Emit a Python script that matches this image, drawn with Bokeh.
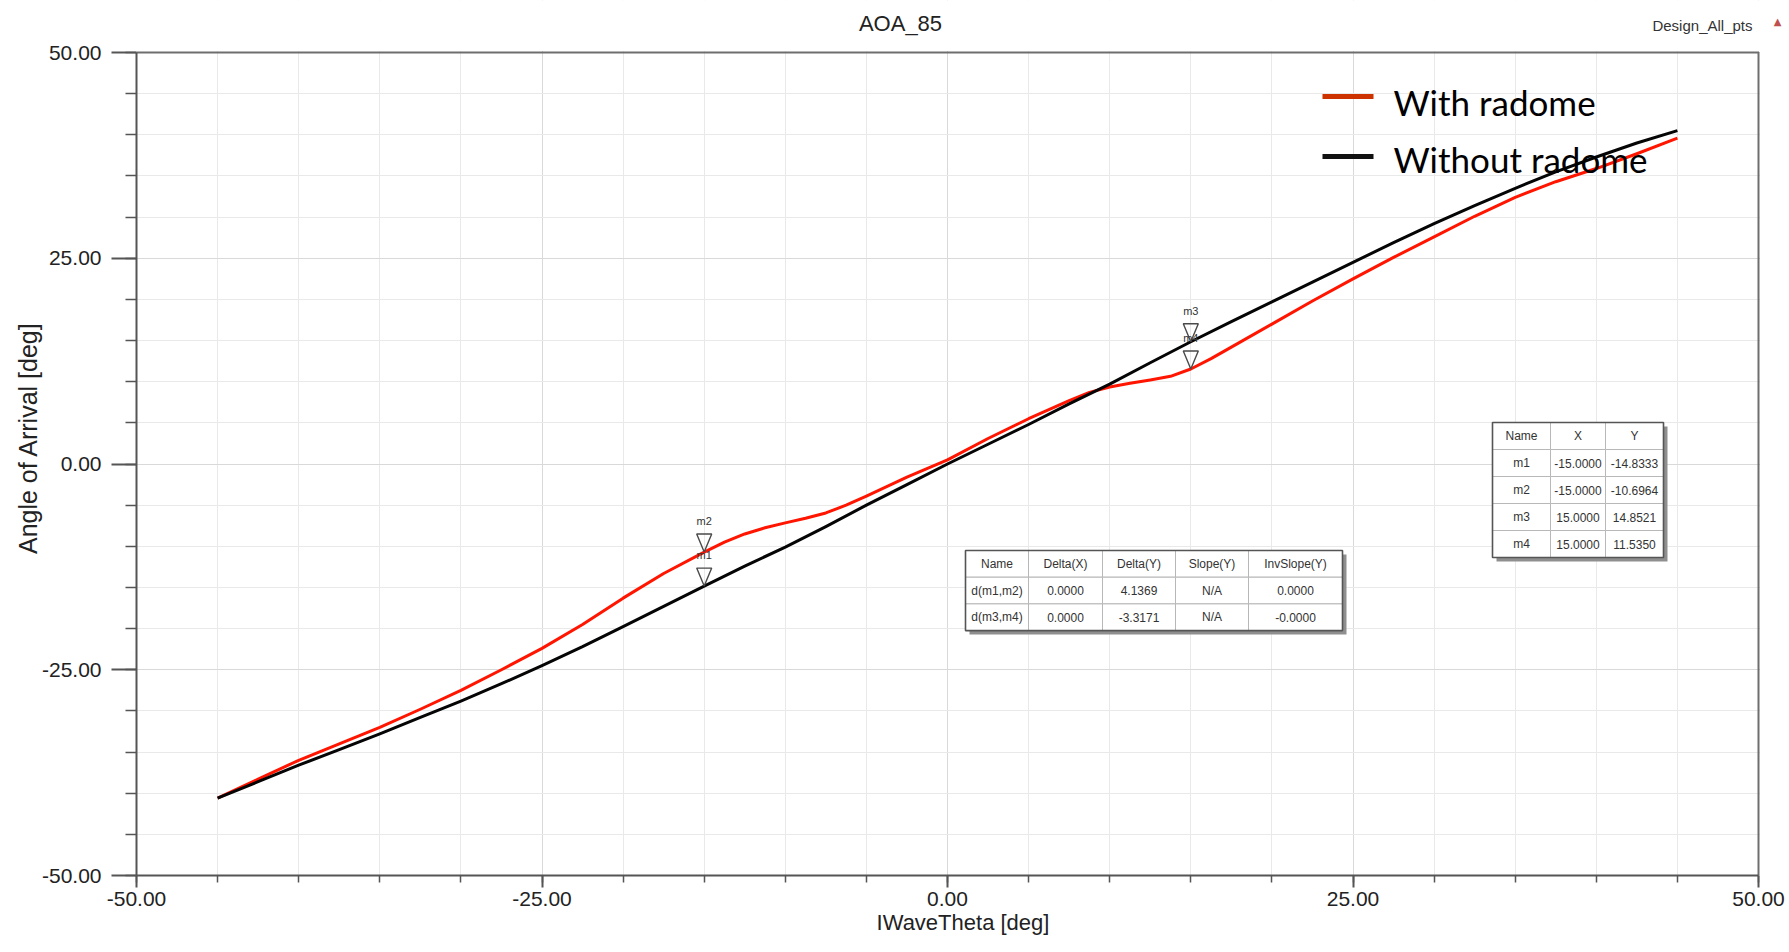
from bokeh.plotting import figure
from bokeh.models import FixedTicker, PrintfTickFormatter, Label, Range1d, BoxAnnotation
from bokeh.core.properties import value
from bokeh.embed import file_html
from bokeh.resources import INLINE

# ---------------- data ----------------
theta_with = [-45, -42.5, -40, -37.5, -35, -32.5, -30, -27.5, -25, -22.5, -20, -17.5,
              -15, -13.75, -12.5, -11.25, -10, -8.75, -7.5, -6.25, -5, -2.5, 0, 2.5,
              5, 7.5, 8.75, 10, 11.25, 12.5, 13.75, 15, 16.25, 17.5, 20, 22.5, 25,
              27.5, 30, 32.5, 35, 37.5, 40, 42.5, 45]
with_radome = [-40.6, -38.3, -36.0, -34.0, -32.0, -29.8, -27.5, -25.0, -22.4, -19.5,
               -16.3, -13.3, -10.7, -9.5, -8.5, -7.75, -7.15, -6.6, -5.95, -5.0,
               -3.9, -1.6, 0.5, 3.1, 5.5, 7.7, 8.7, 9.35, 9.8, 10.2, 10.65, 11.54,
               12.8, 14.2, 17.0, 19.8, 22.5, 25.1, 27.6, 30.1, 32.4, 34.3, 35.9,
               37.7, 39.6]
theta_without = [-45, -42.5, -40, -37.5, -35, -32.5, -30, -27.5, -25, -22.5, -20, -17.5,
                 -15, -12.5, -10, -7.5, -5, -2.5, 0, 2.5, 5, 7.5, 10, 12.5, 15, 17.5,
                 20, 22.5, 25, 27.5, 30, 32.5, 35, 37.5, 40, 42.5, 45]
without_radome = [-40.6, -38.6, -36.6, -34.7, -32.8, -30.8, -28.8, -26.7, -24.5, -22.2,
                  -19.75, -17.3, -14.83, -12.4, -10.1, -7.6, -5.0, -2.5, 0.0, 2.4, 4.8,
                  7.3, 9.7, 12.3, 14.85, 17.3, 19.7, 22.1, 24.5, 26.9, 29.2, 31.4,
                  33.5, 35.5, 37.3, 39.0, 40.5]
series_names = ["With radome", "Without radome"]

x_ticks = [-50, -25, 0, 25, 50]
y_ticks = [-50, -25, 0, 25, 50]
x_minor = [-50, -45, -40, -35, -30, -25, -20, -15, -10, -5, 0, 5, 10, 15, 20, 25, 30, 35, 40, 45, 50]
y_minor = [-50, -45, -40, -35, -30, -25, -20, -15, -10, -5, 0, 5, 10, 15, 20, 25, 30, 35, 40, 45, 50]

marker_names = ["m1", "m2", "m3", "m4"]
marker_x = [-15.0, -15.0, 15.0, 15.0]
marker_y = [-14.8333, -10.6964, 14.8521, 11.5350]
delta_pairs = [(0, 1), (2, 3)]

# ---------------- layout helpers (page pixels) ----------------
W, H = 1789, 952
FL, FR, FT, FB = 136, 1758, 52, 875      # edges of the data box (-50..50)
XPX = (FR - FL) / 100.0
YPX = (FB - FT) / 100.0


def dx(px):
    return -50 + (px - FL) / XPX


def dy(py):
    return 50 - (py - FT) / YPX


TICK_FONT = "Liberation Sans"

# the frame reaches the top and right edges of the page, so that the header
# texts can live inside it; axes and grid are bounded to -50..50
p = figure(width=W, height=H,
           x_range=Range1d(x_ticks[0], dx(W)), y_range=Range1d(y_ticks[0], dy(0)),
           output_backend="svg", toolbar_location=None, title=None,
           min_border_left=FL, min_border_right=0,
           min_border_top=0, min_border_bottom=H - FB)
p.background_fill_color = "white"
p.border_fill_color = "white"
p.outline_line_color = None

for ax, ticks, minor in ((p.xaxis, x_ticks, x_minor), (p.yaxis, y_ticks, y_minor)):
    ax.ticker = FixedTicker(ticks=ticks, minor_ticks=minor)
    ax.bounds = (ticks[0], ticks[-1])
    ax.formatter = PrintfTickFormatter(format="%.2f")
    ax.axis_line_color = "#555555"
    ax.axis_line_width = 2
    ax.major_tick_line_color = "#555555"
    ax.major_tick_line_width = 2
    ax.minor_tick_line_color = "#555555"
    ax.minor_tick_line_width = 1.5
    ax.major_tick_in = 0
    ax.minor_tick_in = 0
    ax.major_label_text_font = TICK_FONT
    ax.major_label_text_font_size = "21px"
    ax.major_label_text_color = "#222222"
    ax.axis_label_text_font = TICK_FONT
    ax.axis_label_text_font_style = "normal"
    ax.axis_label_text_color = "#222222"

p.xaxis.axis_label = "IWaveTheta [deg]"
p.xaxis.axis_label_text_font_size = "22px"
p.xaxis.major_tick_out = 12
p.xaxis.minor_tick_out = 7
p.xaxis.major_label_standoff = 4
p.xaxis.axis_label_standoff = 1

p.yaxis.axis_label = "Angle of Arrival [deg]"
p.yaxis.axis_label_text_font_size = "25px"
p.yaxis.major_tick_out = 25
p.yaxis.minor_tick_out = 11
p.yaxis.major_label_standoff = 10
p.yaxis.axis_label_standoff = -3

for g in (p.xgrid, p.ygrid):
    g.grid_line_color = "#d9d9d9"
    g.grid_line_width = 1
    g.minor_grid_line_color = "#e9e9e9"
    g.minor_grid_line_width = 1

# top and right border of the data box
p.line([x_ticks[0], x_ticks[-1], x_ticks[-1]], [y_ticks[-1], y_ticks[-1], y_ticks[0]],
       line_color="#6e6e6e", line_width=2)

# ---------------- curves ----------------
p.line(theta_with, with_radome, line_color="#ff1500", line_width=3, line_join="round")
p.line(theta_without, without_radome, line_color="#050505", line_width=3, line_join="round")

# ---------------- markers ----------------
tri_w = 15 / XPX
tri_h = 18 / YPX
p.patches([[mx - tri_w / 2, mx + tri_w / 2, mx] for mx in marker_x],
          [[my + tri_h, my + tri_h, my] for my in marker_y],
          fill_alpha=0, line_color="#4a4a4a", line_width=1.4)
p.text(marker_x, [my + 31 / YPX for my in marker_y], text=marker_names,
       text_font=value(TICK_FONT), text_font_size="11px", text_align="center",
       text_baseline="middle", text_color="#333333")


# ---------------- tables ----------------
def draw_table(left, top, col_w, row_h, rows):
    edges = [left]
    for w in col_w:
        edges.append(edges[-1] + w)
    right = edges[-1]
    bottom = top + row_h * len(rows)
    p.quad(left=[dx(left + 4)], right=[dx(right + 4)], top=[dy(top + 4)],
           bottom=[dy(bottom + 4)], fill_color="#8f8f8f", line_color=None)
    L, R, T, B, tx, ty, tt = [], [], [], [], [], [], []
    for r, row in enumerate(rows):
        for c, cell in enumerate(row):
            L.append(dx(edges[c]))
            R.append(dx(edges[c + 1]))
            T.append(dy(top + r * row_h))
            B.append(dy(top + (r + 1) * row_h))
            tx.append(dx((edges[c] + edges[c + 1]) / 2))
            ty.append(dy(top + (r + 0.5) * row_h))
            tt.append(cell)
    p.quad(left=L, right=R, top=T, bottom=B, fill_color="white",
           line_color="#b8b8b8", line_width=1)
    p.quad(left=[dx(left)], right=[dx(right)], top=[dy(top)], bottom=[dy(bottom)],
           fill_alpha=0, line_color="#555555", line_width=1.6)
    p.text(tx, ty, text=tt, text_font=value(TICK_FONT), text_font_size="12px",
           text_align="center", text_baseline="middle", text_color="#333333")


delta_rows = [["Name", "Delta(X)", "Delta(Y)", "Slope(Y)", "InvSlope(Y)"]]
for a, b in delta_pairs:
    ddx = marker_x[b] - marker_x[a]
    ddy = marker_y[b] - marker_y[a]
    delta_rows.append([f"d({marker_names[a]},{marker_names[b]})", f"{ddx:.4f}",
                       f"{ddy:.4f}", "N/A", f"{ddx / ddy:.4f}"])
draw_table(965, 550, [63, 74, 73, 73, 94], 26.7, delta_rows)

marker_rows = [["Name", "X", "Y"]]
for n, mx, my in zip(marker_names, marker_x, marker_y):
    marker_rows.append([n, f"{mx:.4f}", f"{my:.4f}"])
draw_table(1492, 422, [58, 55, 58], 27, marker_rows)

# ---------------- white masks over grid outside the data box ----------------
p.add_layout(BoxAnnotation(bottom=y_ticks[-1] + 1.5 / YPX, fill_color="white",
                           fill_alpha=1, line_alpha=0))
p.add_layout(BoxAnnotation(left=x_ticks[-1] + 1.5 / XPX, fill_color="white",
                           fill_alpha=1, line_alpha=0))

# ---------------- legend ----------------
p.segment(x0=[dx(1322), dx(1322)], y0=[dy(96), dy(156)],
          x1=[dx(1373), dx(1373)], y1=[dy(96), dy(156)],
          line_color=["#cc3300", "#111111"], line_width=5)
for name, base in zip(series_names, (101, 158)):
    p.add_layout(Label(x=dx(1393), y=dy(base), text=name, text_font="Lato",
                       text_font_size="35px", text_color="#000000",
                       text_baseline="alphabetic", text_align="left"))

# ---------------- header texts ----------------
p.add_layout(Label(x=dx(900), y=dy(23), text="AOA_85", text_font=TICK_FONT,
                   text_font_size="22px", text_color="#222222",
                   text_align="center", text_baseline="middle"))
p.add_layout(Label(x=dx(1752), y=dy(25), text="Design_All_pts", text_font=TICK_FONT,
                   text_font_size="15px", text_color="#333333",
                   text_align="right", text_baseline="middle"))
p.add_layout(Label(x=dx(1777), y=dy(21), text="\u25b2", text_font="DejaVu Sans",
                   text_font_size="10px", text_color="#c0504d",
                   text_align="center", text_baseline="middle"))

open("out.html", "w").write(file_html(p, INLINE))
